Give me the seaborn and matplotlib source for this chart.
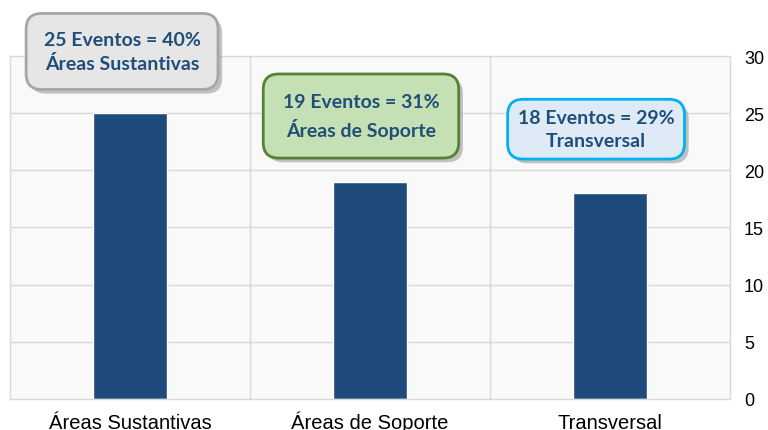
import seaborn as sns
import matplotlib.pyplot as plt
import matplotlib.patheffects as pe

categories = ["Áreas Sustantivas", "Áreas de Soporte", "Transversal"]
eventos = [25, 19, 18]
porcentajes = [40, 31, 29]
box_labels = ["Áreas Sustantivas", "Áreas de Soporte", "Transversal"]

sns.set_theme(style="white")
plt.rcParams["font.family"] = ["Liberation Sans", "DejaVu Sans"]

fig = plt.figure(figsize=(7.68, 4.31), dpi=100)
ax = fig.add_axes([0.013, 0.072, 0.9375, 0.7957])
ax.set_facecolor("#f9f9f9")

sns.barplot(x=categories, y=eventos, color="#1f4a7c", width=0.31,
            saturation=1, ax=ax)

ax.set_ylim(0, 30)
ax.set_xlim(-0.5, 2.5)
ax.set_yticks(range(0, 31, 5))
ax.yaxis.tick_right()
ax.tick_params(axis="y", length=0, pad=10, labelsize=13, labelcolor="black")
ax.tick_params(axis="x", length=0, pad=21, labelsize=14.5, labelcolor="black")
for lbl in ax.get_xticklabels():
    lbl.set_verticalalignment("baseline")
ax.set_xlabel("")
ax.set_ylabel("")

# horizontal grid + vertical separators between categories
for v in range(5, 30, 5):
    ax.axhline(v, color="#d9d9d9", lw=1, zorder=0)
for xv in [0.5, 1.5]:
    ax.axvline(xv, color="#d9d9d9", lw=1, zorder=0)
for s in ax.spines.values():
    s.set_color("#d9d9d9")
    s.set_linewidth(1)

# callout boxes
box_pos = [(-0.033, 30.4), (0.9625, 24.75), (1.942, 23.6)]
box_face = ["#e6e6e6", "#c5e0b4", "#deebf7"]
box_edge = ["#a6a6a6", "#548235", "#00b0f0"]
box_pad = [0.9, 1.0, 0.52]
for i in range(len(categories)):
    txt = f"{eventos[i]} Eventos = {porcentajes[i]}%\n{box_labels[i]}"
    t = ax.text(box_pos[i][0], box_pos[i][1], txt, ha="center", va="center",
                fontsize=14, fontweight="bold", color="#1f4e79",
                family=["Lato", "DejaVu Sans"], linespacing=1.4,
                clip_on=False, zorder=5,
                bbox=dict(boxstyle=f"round,pad={box_pad[i]},rounding_size=0.8",
                          fc=box_face[i], ec=box_edge[i], lw=2))
    t.get_bbox_patch().set_path_effects([
        pe.SimplePatchShadow(offset=(3, -3), shadow_rgbFace="#888888", alpha=0.5),
        pe.Normal()])

fig.savefig("out.png", dpi=100)
